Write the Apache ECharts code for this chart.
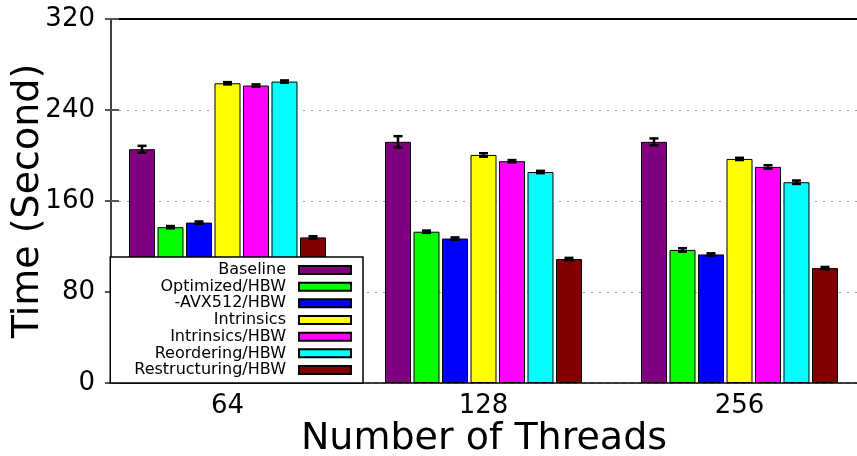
<!DOCTYPE html>
<html>
<head>
<meta charset="utf-8">
<script src="https://cdn.jsdelivr.net/npm/echarts@6/dist/echarts.min.js"></script>
<style>html,body{margin:0;padding:0;background:#fff}#c{width:857px;height:456px}</style>
</head>
<body>
<div id="c"></div>
<script>
const categories = ['64', '128', '256'];
const seriesNames = ['Baseline', 'Optimized/HBW', '-AVX512/HBW', 'Intrinsics', 'Intrinsics/HBW', 'Reordering/HBW', 'Restructuring/HBW'];
const baseline = [205.5, 212, 212];
const optimized = [137, 133, 117];
const avx512 = [141, 127, 113];
const intrinsics = [263.5, 200.5, 197];
const intrinsicsHBW = [261.5, 195, 190];
const reordering = [265, 185.5, 176.5];
const restructuring = [128, 109, 101];
const baselineErr = [3, 5, 3];
const optimizedErr = [1, 1, 1.5];
const avx512Err = [1, 1, 1];
const intrinsicsErr = [1, 1.5, 1];
const intrinsicsHBWErr = [1, 1, 1.5];
const reorderingErr = [1, 1, 1.5];
const restructuringErr = [1, 1, 1];
const yTicks = [0, 80, 160, 240, 320];

const values = [baseline, optimized, avx512, intrinsics, intrinsicsHBW, reordering, restructuring];
const errors = [baselineErr, optimizedErr, avx512Err, intrinsicsErr, intrinsicsHBWErr, reorderingErr, restructuringErr];
const colors = ['#800080', '#00ff00', '#0000ff', '#ffff00', '#ff00ff', '#00ffff', '#800000'];

const FONT = 'DejaVu Sans';
const errData = [];
values.forEach((arr, s) => arr.forEach((v, c) => errData.push([c, s, v, errors[s][c]])));

const chart = echarts.init(document.getElementById('c'), null, {renderer: 'canvas'});
const option = {
  animation: false,
  backgroundColor: '#fff',
  textStyle: {fontFamily: FONT},
  grid: [
    {left: 111, top: 19, right: 0, bottom: 73, containLabel: false, outerBoundsMode: 'none'},
    {left: 99.5, top: 19, width: 768, bottom: 73, containLabel: false, outerBoundsMode: 'none'}
  ],
  xAxis: [
    {gridIndex: 0, type: 'value', min: 0, max: 1, position: 'bottom',
     axisLine: {show: true, onZero: false, lineStyle: {color: '#000', width: 1.5}},
     axisTick: {show: false}, axisLabel: {show: false}, splitLine: {show: false},
     name: 'Number of Threads', nameLocation: 'middle', nameGap: 37, nameMoveOverlap: false,
     nameTextStyle: {fontFamily: FONT, fontSize: 38, color: '#000'}},
    {gridIndex: 0, type: 'value', min: 0, max: 1, position: 'top',
     axisLine: {show: true, onZero: false, lineStyle: {color: '#000', width: 2}},
     axisTick: {show: false}, axisLabel: {show: false}, splitLine: {show: false}},
    {gridIndex: 1, type: 'category', data: categories,
     axisLine: {show: false}, axisTick: {show: false},
     axisLabel: {fontFamily: FONT, fontSize: 26, color: '#000', margin: 10}}
  ],
  yAxis: [
    {gridIndex: 0, type: 'value', min: 0, max: 320, interval: 80, position: 'left',
     axisLine: {show: true, lineStyle: {color: '#000', width: 1.5}},
     axisTick: {show: true, inside: true, length: 8, lineStyle: {color: '#555', width: 2}},
     axisLabel: {fontFamily: FONT, fontSize: 26, color: '#000', margin: 16,
                 formatter: v => yTicks.includes(v) ? String(v) : ''},
     splitLine: {show: true, lineStyle: {color: '#999', width: 1, type: [2, 6]}},
     name: 'Time (Second)', nameLocation: 'middle', nameGap: 64, nameMoveOverlap: false,
     nameTextStyle: {fontFamily: FONT, fontSize: 38, color: '#000'}},
    {gridIndex: 0, type: 'value', min: 0, max: 320, interval: 80, position: 'right',
     axisLine: {show: false},
     axisTick: {show: true, inside: true, length: 6, lineStyle: {color: '#555', width: 2}},
     axisLabel: {show: false}, splitLine: {show: false}},
    {gridIndex: 1, type: 'value', min: 0, max: 320, interval: 80, show: false}
  ],
  legend: {
    orient: 'vertical', align: 'right', right: 494, top: 257,
    padding: [5, 11, 5, 24], itemGap: 0.67, itemWidth: 52, itemHeight: 8,
    backgroundColor: '#fff', borderColor: '#000', borderWidth: 1.5, borderRadius: 0,
    icon: 'rect', data: seriesNames,
    textStyle: {fontFamily: FONT, fontSize: 16, color: '#000', padding: [0, 8, 0, 0]}
  },
  series: values.map((arr, s) => ({
    name: seriesNames[s], type: 'bar', xAxisIndex: 2, yAxisIndex: 2,
    data: arr, barWidth: 26, barGap: '9.6%',
    itemStyle: {color: colors[s], borderColor: '#000', borderWidth: 1}
  })).concat([{
    type: 'custom', xAxisIndex: 2, yAxisIndex: 2, z: 3,
    encode: {x: 0, y: 2},
    data: errData,
    renderItem: function (params, api) {
      const c = api.value(0), s = api.value(1), v = api.value(2), e = api.value(3);
      const band = api.size([1, 0])[0];
      const x = api.coord([c, v])[0] + (s - 3) * band * 28.5 / 256;
      const yt = api.coord([c, v + e])[1];
      const yb = api.coord([c, v - e])[1];
      const hw = band * 4.5 / 256;
      const st = {stroke: '#000', lineWidth: 2.5};
      return {type: 'group', children: [
        {type: 'line', shape: {x1: x, y1: yt, x2: x, y2: yb}, style: st},
        {type: 'line', shape: {x1: x - hw, y1: yt, x2: x + hw, y2: yt}, style: st},
        {type: 'line', shape: {x1: x - hw, y1: yb, x2: x + hw, y2: yb}, style: st}
      ]};
    }
  }])
};
chart.setOption(option);
</script>
</body>
</html>
